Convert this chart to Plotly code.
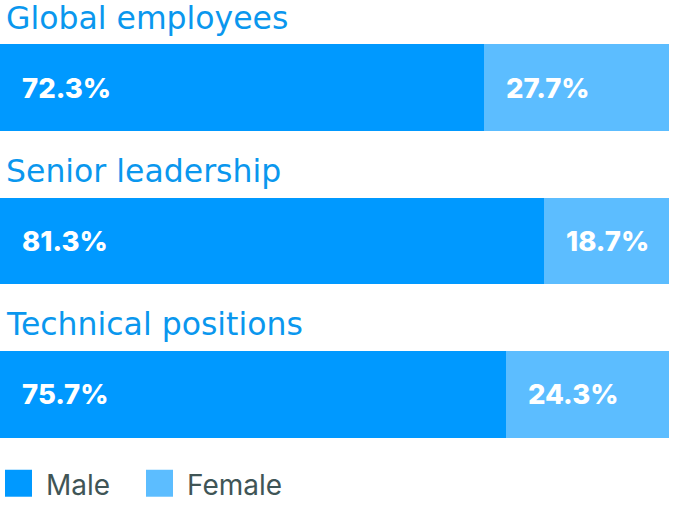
import plotly.graph_objects as go

categories = ["Global employees", "Senior leadership", "Technical positions"]
series_names = ["Male", "Female"]
male = [72.3, 81.3, 75.7]
female = [27.7, 18.7, 24.3]
colors = ["#0099ff", "#5cbdff"]
title_color = "#0a97ee"
legend_text_color = "#405556"

PLOT_TOP = 10.75
PLOT_H = 460.5

fig = go.Figure()
for name, vals, col in zip(series_names, [male, female], colors):
    fig.add_trace(go.Bar(
        y=categories, x=vals, name=name, orientation="h",
        marker=dict(color=col, line=dict(width=0)),
        width=0.567, showlegend=False, hoverinfo="skip",
    ))

annotations = []
for cat in categories:
    annotations.append(dict(
        x=0, xref="paper", y=cat, yref="y", yshift=70, xshift=4,
        text=cat, showarrow=False, xanchor="left", yanchor="middle",
        font=dict(family="DejaVu Sans", size=31.5, color=title_color),
    ))
for cat, m, f in zip(categories, male, female):
    for base, v in [(0, m), (m, f)]:
        annotations.append(dict(
            x=base, xref="x", y=cat, yref="y", xshift=20,
            text=f"{v:.1f}%", showarrow=False, xanchor="left", yanchor="middle",
            font=dict(family="Inter", size=27.5, color="white", weight=800),
        ))

def py(pixel_y):
    return (PLOT_TOP + PLOT_H - pixel_y) / PLOT_H

shapes = []
legend_x = [5, 146]
for name, col, lx in zip(series_names, colors, legend_x):
    shapes.append(dict(type="rect", xref="paper", yref="paper",
                       x0=lx / 669, x1=(lx + 27) / 669, y0=py(497), y1=py(470),
                       fillcolor=col, line=dict(width=0)))
    annotations.append(dict(
        x=(lx + 39) / 669, xref="paper", y=py(485), yref="paper",
        text=name, showarrow=False, xanchor="left", yanchor="middle",
        font=dict(family="Inter", size=28, color=legend_text_color),
    ))

fig.update_layout(
    width=678, height=505,
    margin=dict(l=0, r=9, t=PLOT_TOP, b=505 - PLOT_TOP - PLOT_H),
    paper_bgcolor="white", plot_bgcolor="white",
    barmode="stack", bargap=0,
    xaxis=dict(range=[0, 100], visible=False, fixedrange=True),
    yaxis=dict(categoryorder="array", categoryarray=categories, range=[2.5, -0.5],
               visible=False, fixedrange=True),
    annotations=annotations, shapes=shapes,
    showlegend=False,
)

fig.write_html("out.html", config={"displayModeBar": False})
